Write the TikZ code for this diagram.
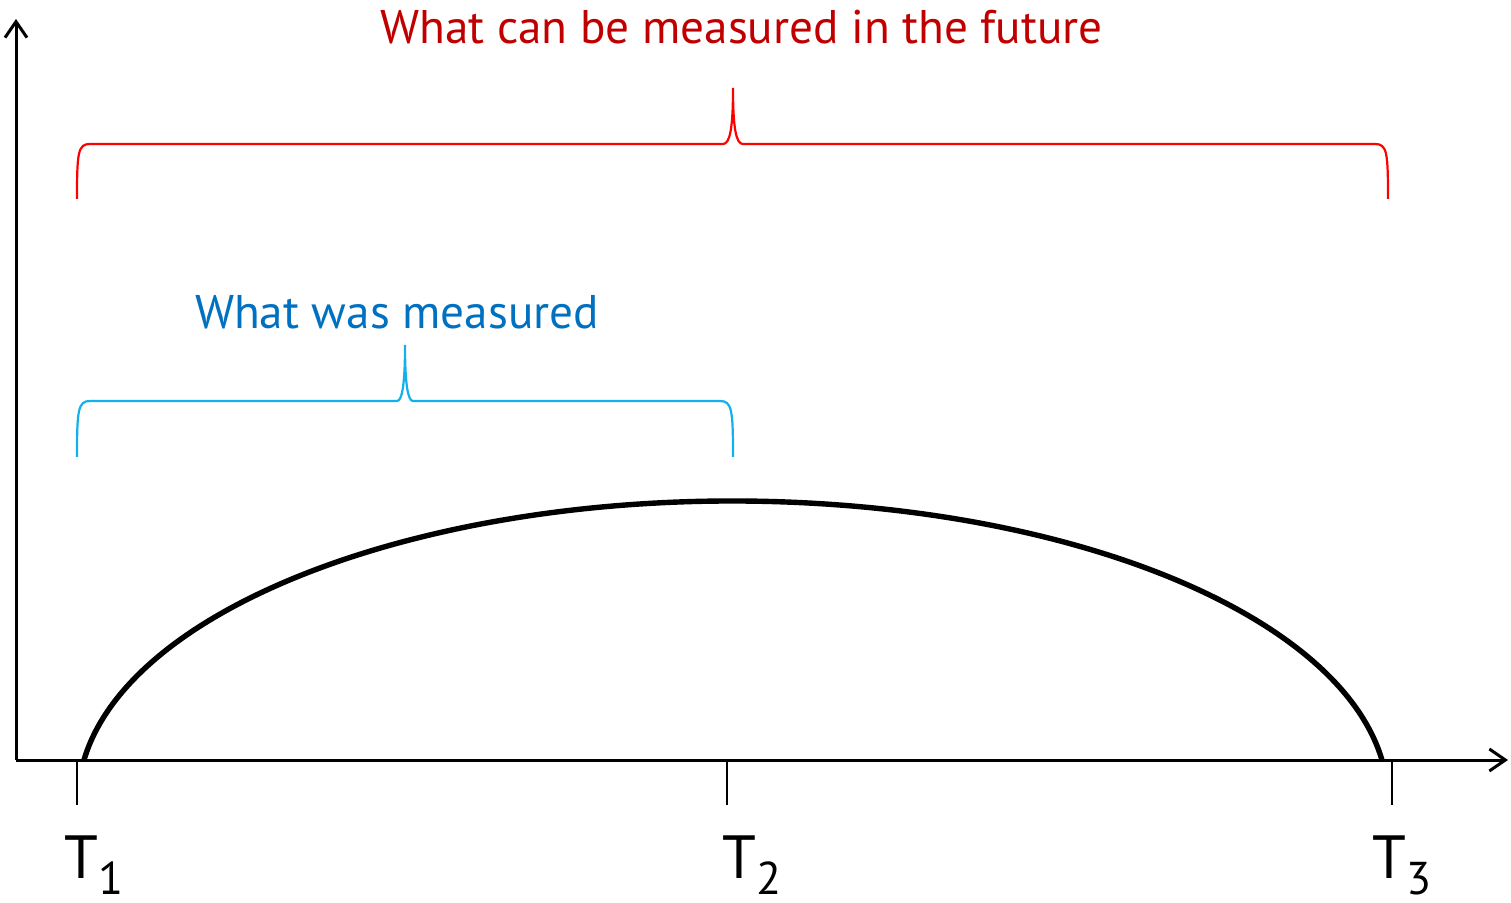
\documentclass[tikz,border=0pt]{standalone}
\usepackage{fontspec}
\setmainfont{PT Sans}
\usetikzlibrary{arrows.meta}
\definecolor{bracered}{RGB}{255,0,0}
\definecolor{textred}{RGB}{192,0,0}
\definecolor{braceblue}{RGB}{20,176,235}
\definecolor{textblue}{RGB}{0,112,192}
\begin{document}
\begin{tikzpicture}[x=0.5pt,y=-0.5pt,
  axis/.style={line width=1.5pt,-{Straight Barb[length=8pt,width=11pt,line width=1.5pt]}},
  tick/.style={line width=0.75pt},
  hump/.style={line width=2.7pt},
  redbrace/.style={draw=bracered,line width=1.1pt},
  bluebrace/.style={draw=braceblue,line width=1.1pt},
  bracelabel/.style={inner sep=0pt,anchor=base,font=\fontsize{23.6}{28}\selectfont},
  tlabel/.style={inner sep=0pt,anchor=base west,font=\fontsize{30.5}{34}\selectfont}]
\useasboundingbox (0,0) rectangle (1511,903);
% axes
\coordinate (O) at (16,760);
\coordinate (ytop) at (16,19);
\coordinate (xend) at (1508,760);
\draw[axis] (O) -- (ytop);
\draw[axis] (O) -- (xend);
% ticks
\coordinate (t1a) at (77,760); \coordinate (t1b) at (77,805);
\coordinate (t2a) at (727,760); \coordinate (t2b) at (727,805);
\coordinate (t3a) at (1392,760); \coordinate (t3b) at (1392,805);
\draw[tick] (t1a) -- (t1b);
\draw[tick] (t2a) -- (t2b);
\draw[tick] (t3a) -- (t3b);
% tick labels
\newcommand{\tsub}[1]{T\raisebox{-8pt}{\fontsize{23}{26}\selectfont #1}}
\node[tlabel] (T1) at (64,878) {\tsub{1}};
\node[tlabel] (T2) at (722,878) {\tsub{2}};
\node[tlabel] (T3) at (1372,878) {\tsub{3}};
% hump
\coordinate (hs) at (84,760);
\draw[hump] (hs) arc[start angle=172.31, end angle=7.69, x radius=654.9, y radius=-299];
% red brace
\draw[redbrace] (77,199) .. controls (77,152) and (78,144) .. (90,144)
  -- (723,144) .. controls (730,144) and (733,128) .. (733,88)
  .. controls (733,128) and (736,144) .. (743,144)
  -- (1375,144) .. controls (1387,144) and (1388,152) .. (1388,199);
\node[bracelabel,text=textred] (red) at (741.5,44) {What can be measured in the future};
% blue brace
\draw[bluebrace] (77,457) .. controls (77,410) and (78,401) .. (90,401)
  -- (397,401) .. controls (402,401) and (405,385) .. (405,345)
  .. controls (405,385) and (408,401) .. (413,401)
  -- (720,401) .. controls (732,401) and (733,410) .. (733,457);
\node[bracelabel,text=textblue] (blue) at (397,329) {What was measured};
\end{tikzpicture}
\end{document}
